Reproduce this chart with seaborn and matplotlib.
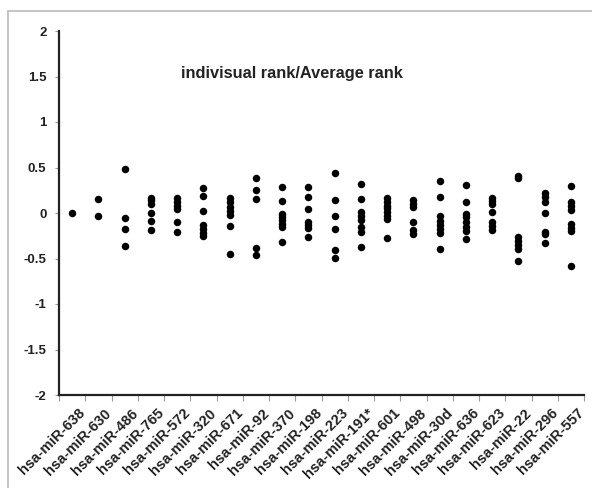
import matplotlib
matplotlib.use("Agg")
import matplotlib.pyplot as plt
from matplotlib.lines import Line2D
from matplotlib.transforms import ScaledTranslation
import numpy as np
import pandas as pd
import seaborn as sns

# Ratio of each individual rank to the average rank, per miRNA
mirnas = ["hsa-miR-638", "hsa-miR-630", "hsa-miR-486", "hsa-miR-765", "hsa-miR-572",
          "hsa-miR-320", "hsa-miR-671", "hsa-miR-92", "hsa-miR-370", "hsa-miR-198",
          "hsa-miR-223", "hsa-miR-191*", "hsa-miR-601", "hsa-miR-498", "hsa-miR-30d",
          "hsa-miR-636", "hsa-miR-623", "hsa-miR-22", "hsa-miR-296", "hsa-miR-557"]

mir_638 = [0.0]
mir_630 = [0.15, -0.03]
mir_486 = [0.48, -0.05, -0.18, -0.36]
mir_765 = [0.17, 0.14, 0.10, 0.0, -0.09, -0.19]
mir_572 = [0.16, 0.12, 0.08, 0.04, -0.10, -0.21]
mir_320 = [0.28, 0.19, 0.02, -0.13, -0.18, -0.22, -0.25]
mir_671 = [0.16, 0.12, 0.07, 0.02, -0.02, -0.14, -0.45]
mir_92 = [0.38, 0.25, 0.15, -0.38, -0.46]
mir_370 = [0.29, 0.13, -0.01, -0.04, -0.08, -0.12, -0.15, -0.32]
mir_198 = [0.29, 0.18, 0.04, -0.10, -0.13, -0.17, -0.26]
mir_223 = [0.44, 0.14, -0.03, -0.18, -0.41, -0.49]
mir_191s = [0.32, 0.15, 0.01, -0.03, -0.08, -0.15, -0.21, -0.37]
mir_601 = [0.16, 0.12, 0.08, 0.05, 0.01, -0.03, -0.07, -0.27]
mir_498 = [0.14, 0.10, 0.07, -0.10, -0.19, -0.23]
mir_30d = [0.35, 0.18, -0.03, -0.09, -0.13, -0.18, -0.22, -0.40]
mir_636 = [0.31, 0.12, -0.01, -0.04, -0.10, -0.15, -0.20, -0.29]
mir_623 = [0.17, 0.13, 0.10, 0.01, -0.10, -0.14, -0.19]
mir_22 = [0.41, 0.38, -0.26, -0.31, -0.35, -0.40, -0.53]
mir_296 = [0.22, 0.18, 0.12, 0.0, -0.21, -0.23, -0.33]
mir_557 = [0.30, 0.12, 0.08, 0.03, -0.12, -0.16, -0.20, -0.58]

series = [mir_638, mir_630, mir_486, mir_765, mir_572, mir_320, mir_671, mir_92,
          mir_370, mir_198, mir_223, mir_191s, mir_601, mir_498, mir_30d, mir_636,
          mir_623, mir_22, mir_296, mir_557]

y_ticks = [2, 1.5, 1, 0.5, 0, -0.5, -1, -1.5, -2]
title = "indivisual rank/Average rank"

df = pd.DataFrame(
    [(name, v) for name, vals in zip(mirnas, series) for v in vals],
    columns=["mirna", "ratio"],
)

sns.set_theme(style="white")
plt.rcParams["font.family"] = ["Liberation Sans", "DejaVu Sans"]

fig = plt.figure(figsize=(5.92, 4.88), dpi=100)
ax = fig.add_axes([59 / 592, 1 - 395 / 488, 525 / 592, 364 / 488])

sns.stripplot(data=df, x="mirna", y="ratio", order=mirnas, jitter=False,
              color="black", size=5.4, linewidth=0, ax=ax)

ax.set_xlim(-0.5, len(mirnas) - 0.5)
ax.set_ylim(-2, 2)
ax.set_xlabel("")
ax.set_ylabel("")

# spines: only left and bottom
for side in ["top", "right"]:
    ax.spines[side].set_visible(False)
for side in ["left", "bottom"]:
    ax.spines[side].set_color("#222222")
    ax.spines[side].set_linewidth(1.6)

ax.set_yticks(y_ticks)
ax.set_yticklabels([f"{t:g}" for t in y_ticks], fontsize=9.5, fontweight="bold",
                   color="#222222")
ax.tick_params(axis="y", which="major", left=True, length=3, width=0.8,
               color="#999999", direction="out", pad=6)

# category labels at centers, tick marks at category boundaries
ax.set_xticks(np.arange(len(mirnas)))
ax.set_xticklabels(mirnas, rotation=45, ha="right", va="top", rotation_mode="anchor",
                   fontsize=10.5, fontweight="bold", color="#222222")
ax.tick_params(axis="x", which="major", bottom=False, length=0, pad=8)
shift = ScaledTranslation(6 / 100, 0, fig.dpi_scale_trans)
for lbl in ax.get_xticklabels():
    lbl.set_transform(lbl.get_transform() + shift)
ax.set_xticks(np.arange(len(mirnas) + 1) - 0.5, minor=True)
ax.tick_params(axis="x", which="minor", bottom=True, length=4, width=0.8,
               color="#999999", direction="out")

ax.text(0.444, 0.883, title, transform=ax.transAxes, ha="center", va="center",
        fontsize=11.8, fontweight="bold", color="#222222")

# light frame around the chart area
fig.add_artist(Line2D([8 / 592, 1.0], [1 - 11 / 488, 1 - 11 / 488],
                      transform=fig.transFigure, color="#bbbbbb", linewidth=1.2))
fig.add_artist(Line2D([8 / 592, 8 / 592], [0.0, 1 - 11 / 488],
                      transform=fig.transFigure, color="#bbbbbb", linewidth=1.2))

fig.savefig("out.png", dpi=100, facecolor="white")
